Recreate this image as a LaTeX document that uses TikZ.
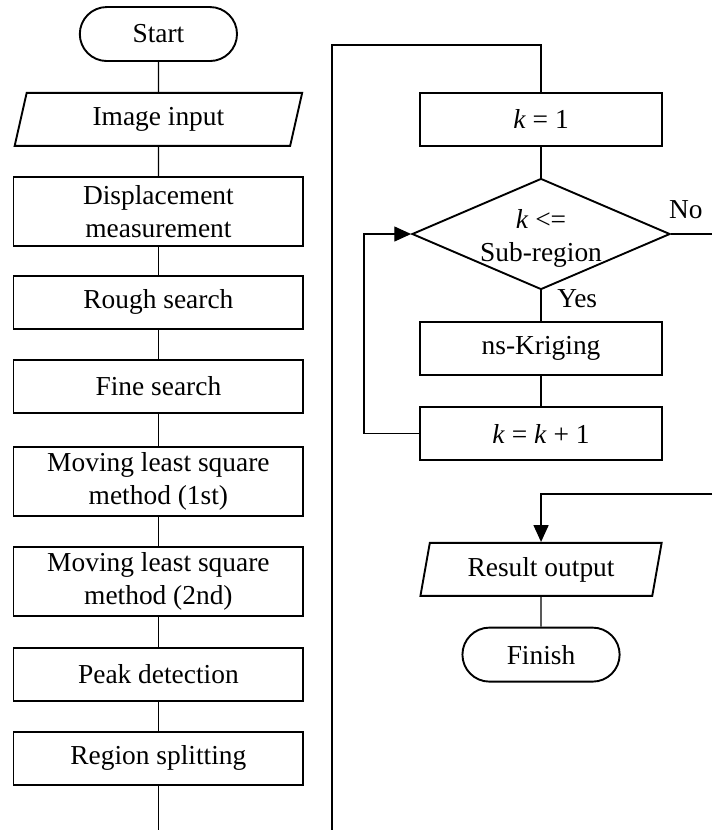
\documentclass[tikz,border=0pt]{standalone}
\usepackage{fontspec}
\setmainfont{Liberation Serif}
\usetikzlibrary{arrows.meta,calc,shapes.geometric}

\begin{document}
\begin{tikzpicture}[>={Triangle[length=0.28cm,width=0.25cm]},
  font=\fontsize{13}{15.6}\selectfont, line width=0.6pt,
  box/.style={draw, line width=0.9pt, minimum width=4.83cm, minimum height=0.883cm,
    align=center, inner sep=0pt},
  sbox/.style={box, minimum width=4.03cm},
  tall/.style={box, minimum height=1.15cm},
  term/.style={draw, line width=0.9pt, rounded corners=0.45cm, minimum width=2.62cm,
    minimum height=0.9cm, inner sep=0pt},
  io/.style={draw, line width=0.9pt, trapezium, trapezium left angle=76,
    trapezium right angle=104, trapezium stretches=true, minimum height=0.883cm,
    inner sep=0pt},
  dec/.style={draw, line width=0.9pt, diamond, minimum width=4.3cm,
    minimum height=1.85cm, inner sep=0pt}]
  \useasboundingbox (0,0) rectangle (11.867,-13.833);

  % left column
  \node[term] (start) at (2.64,-0.567) {Start};
  \node[io, minimum width=4.82cm] (input) at (2.64,-1.99) {Image input};
  \node[tall] (disp) at (2.64,-3.525) {Displacement\\measurement};
  \node[box] (rough) at (2.64,-5.04) {Rough search};
  \node[box] (fine) at (2.64,-6.44) {Fine search};
  \node[tall] (mls1) at (2.64,-8.025) {Moving least square\\method (1st)};
  \node[tall] (mls2) at (2.64,-9.69) {Moving least square\\method (2nd)};
  \node[box] (peak) at (2.64,-11.24) {Peak detection};
  \node[box] (split) at (2.64,-12.64) {Region splitting};
  \coordinate (L) at (2.64,-13.833);

  \foreach \a/\b in {start/input, input/disp, disp/rough, rough/fine, fine/mls1,
                     mls1/mls2, mls2/peak, peak/split, split/L}
    \draw (\a) -- (\b);

  % jump to the right column
  \coordinate (J1) at (5.533,-13.833);
  \coordinate (J2) at (5.533,-0.75);
  \coordinate (J3) at (9.017,-0.75);

  % right column
  \node[sbox] (kone) at (9.017,-1.99) {\textit{k} = 1};
  \node[dec] (cond) at (9.017,-3.9) {};
  \node[align=center, inner sep=0pt] (condtxt) at (9.017,-3.98) {\textit{k} <=\\Sub-region};
  \node[sbox] (krig) at (9.017,-5.81) {ns-Kriging};
  \node[sbox] (kinc) at (9.017,-7.225) {\textit{k} = \textit{k} + 1};
  \node[io, minimum width=4.03cm] (result) at (9.017,-9.49) {Result output};
  \node[term] (finish) at (9.017,-10.91) {Finish};

  \node (no) at (11.43,-3.5) {No};
  \node (yes) at (9.62,-4.97) {Yes};

  \coordinate (loop) at (6.067,-7.225);
  \coordinate (noend) at (11.867,-3.9);
  \coordinate (back) at (11.867,-8.233);

  \draw (J1) -- (J2) -- (J3) -- (kone);
  \draw (kone) -- (cond);
  \draw (cond) -- (krig);
  \draw (krig) -- (kinc);
  \draw[->] (kinc.west) -- (loop) |- (cond.west);
  \draw (cond.east) -- (noend);
  \draw[->] (back) -| (result);
  \draw (result) -- (finish);
\end{tikzpicture}
\end{document}
